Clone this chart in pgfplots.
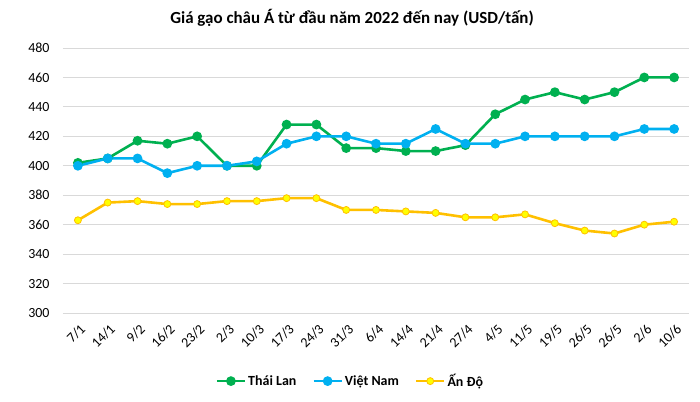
\documentclass[border=0pt]{standalone}
\usepackage{fontspec}
\setmainfont{Carlito}
\usepackage{pgfplots}
\pgfplotsset{compat=1.18}
\definecolor{thai}{RGB}{0,176,80}
\definecolor{viet}{RGB}{0,176,240}
\definecolor{ando}{RGB}{255,192,0}
\definecolor{andomark}{RGB}{255,255,0}
\definecolor{gridc}{RGB}{217,217,217}

\begin{document}
\begin{tikzpicture}[x=1bp,y=1bp]
\begin{axis}[
  at={(0,0)}, anchor=south west,
  scale only axis,
  width=626bp, height=265bp,
  xmin=-0.5, xmax=20.5,
  ymin=300, ymax=480,
  ytick={300,320,...,480},
  xtick={0,...,20},
  xticklabels={7/1,14/1,9/2,16/2,23/2,2/3,10/3,17/3,24/3,31/3,6/4,14/4,21/4,27/4,4/5,11/5,19/5,26/5,26/5,2/6,10/6},
  xticklabel style={rotate=45, anchor=north east, font=\fontsize{14}{16}\selectfont, inner sep=0pt, xshift=-6bp, yshift=-8bp},
  yticklabel style={font=\fontsize{14}{16}\selectfont, xshift=-10bp},
  /pgf/number format/assume math mode=true,
  axis line style={draw=none},
  major tick length=0pt,
  ymajorgrids,
  grid style={gridc, line width=0.9bp},
  legend columns=3,
  legend style={at={(0.459,-0.257)}, anchor=center, draw=none, fill=none,
    font=\bfseries\fontsize{14}{16}\selectfont, inner sep=0pt,
    /tikz/every even column/.append style={column sep=14bp}},
  legend image code/.code={
    \draw[#1, mark=none] (0bp,0bp) -- (28bp,0bp);
    \draw[#1, only marks] plot coordinates {(14bp,0bp)};
  },
  clip=false,
]
\addplot[thai, line width=2.6bp, mark=*, mark size=3.5bp, mark options={fill=thai, draw=thai}] coordinates {
  (0,402) (1,405) (2,417) (3,415) (4,420) (5,400) (6,400) (7,428) (8,428) (9,412)
  (10,412) (11,410) (12,410) (13,414) (14,435) (15,445) (16,450) (17,445) (18,450) (19,460) (20,460)
};
\addlegendentry{Thái Lan}
\addplot[viet, line width=2.6bp, mark=*, mark size=3.5bp, mark options={fill=viet, draw=viet}] coordinates {
  (0,400) (1,405) (2,405) (3,395) (4,400) (5,400) (6,403) (7,415) (8,420) (9,420)
  (10,415) (11,415) (12,425) (13,415) (14,415) (15,420) (16,420) (17,420) (18,420) (19,425) (20,425)
};
\addlegendentry{Việt Nam}
\addplot[ando, line width=2.6bp, mark=*, mark size=3.5bp, mark options={fill=andomark, draw=ando, line width=0.8bp}] coordinates {
  (0,363) (1,375) (2,376) (3,374) (4,374) (5,376) (6,376) (7,378) (8,378) (9,370)
  (10,370) (11,369) (12,368) (13,365) (14,365) (15,367) (16,361) (17,356) (18,354) (19,360) (20,362)
};
\addlegendentry{Ấn Độ}
\end{axis}
\node[font=\bfseries\fontsize{17}{20}\selectfont] at (289,295) {Giá gạo châu Á từ đầu năm 2022 đến nay (USD/tấn)};
\pgfresetboundingbox
\path (-63,-88) rectangle (637,313);
\end{tikzpicture}
\end{document}
